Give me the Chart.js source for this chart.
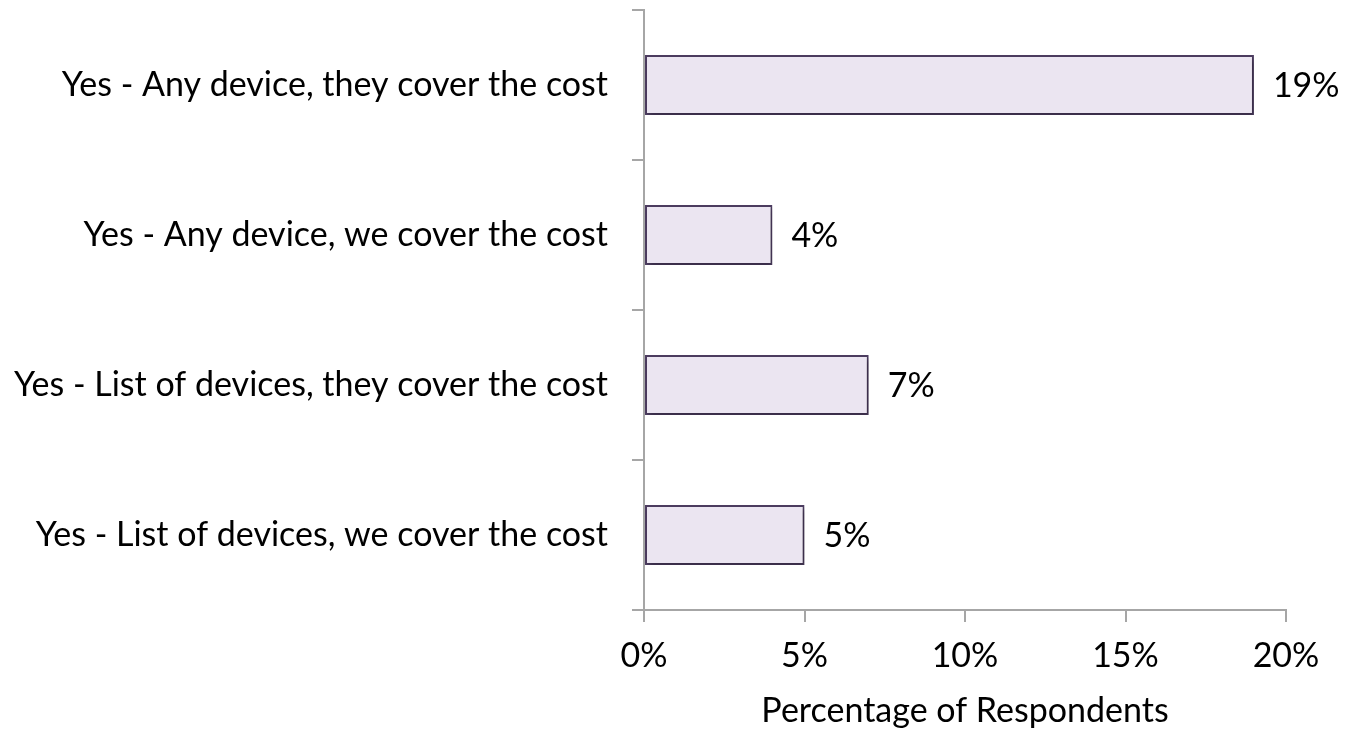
<!DOCTYPE html>
<html>
<head>
<meta charset="utf-8">
<script src="https://cdn.jsdelivr.net/npm/chart.js@4"></script>
<style>
  html, body { margin: 0; padding: 0; background: #fff; }
  #wrap { width: 1345px; height: 735px; position: relative; }
</style>
</head>
<body>
<div id="wrap"><canvas id="myChart"></canvas></div>
<script>
var categories = [
  "Yes - Any device, they cover the cost",
  "Yes - Any device, we cover the cost",
  "Yes - List of devices, they cover the cost",
  "Yes - List of devices, we cover the cost"
];
var percentages = [19, 4, 7, 5];
var xTicks = [0, 5, 10, 15, 20];
var xTitle = "Percentage of Respondents";

var fontFamily = "Lato, 'Open Sans', sans-serif";
var fontSize = 34;
var axisGray = "#a6a6a6";

// value labels at the end of each bar
var barLabels = {
  id: "barLabels",
  afterDatasetsDraw: function (chart) {
    var ctx = chart.ctx;
    var meta = chart.getDatasetMeta(0);
    ctx.save();
    ctx.font = fontSize + "px " + fontFamily;
    ctx.fillStyle = "#000";
    ctx.textAlign = "left";
    ctx.textBaseline = "middle";
    meta.data.forEach(function (bar, i) {
      ctx.fillText(percentages[i] + "%", bar.x + 19, bar.y + 1);
    });
    ctx.restore();
  }
};

// soft shadow under the bars
var barShadow = {
  id: "barShadow",
  beforeDatasetsDraw: function (chart) {
    var ctx = chart.ctx;
    ctx.save();
    ctx.shadowColor = "rgba(0,0,0,0.3)";
    ctx.shadowBlur = 5;
    ctx.shadowOffsetX = 2;
    ctx.shadowOffsetY = 3;
  },
  afterDatasetsDraw: function (chart) {
    chart.ctx.restore();
  }
};

var ctx = document.getElementById("myChart").getContext("2d");
var myChart = new Chart(ctx, {
  type: "bar",
  data: {
    labels: categories,
    datasets: [
      {
        data: percentages,
        backgroundColor: "#ebe5f1",
        borderColor: "#4d3d61",
        borderWidth: 2,
        borderSkipped: false,
        barPercentage: 0.4,
        categoryPercentage: 1.0
      }
    ]
  },
  plugins: [barShadow, barLabels],
  options: {
    indexAxis: "y",
    responsive: true,
    maintainAspectRatio: false,
    animation: false,
    layout: { padding: { top: 10, right: 59, left: 0, bottom: 0 } },
    plugins: {
      legend: { display: false },
      tooltip: { enabled: false }
    },
    scales: {
      x: {
        min: 0,
        max: 20,
        afterBuildTicks: function (scale) {
          scale.ticks = xTicks.map(function (v) { return { value: v }; });
        },
        afterFit: function (scale) { scale.height = 125; },
        border: { color: axisGray, width: 2 },
        grid: {
          drawOnChartArea: false,
          tickLength: 12,
          color: axisGray,
          lineWidth: 2
        },
        ticks: {
          padding: 14,
          color: "#000",
          font: { family: fontFamily, size: fontSize },
          callback: function (v) { return v + "%"; }
        },
        title: {
          display: true,
          text: xTitle,
          color: "#000",
          font: { family: fontFamily, size: fontSize },
          padding: { top: -2 }
        }
      },
      y: {
        afterFit: function (scale) {
          scale.width = 644;
          scale.paddingTop = 0;
          scale.paddingBottom = 0;
        },
        border: { color: axisGray, width: 2 },
        grid: {
          offset: true,
          drawOnChartArea: false,
          tickLength: 12,
          color: axisGray,
          lineWidth: 2
        },
        ticks: {
          padding: 24,
          color: "#000",
          font: { family: fontFamily, size: fontSize }
        }
      }
    }
  }
});
</script>
</body>
</html>
